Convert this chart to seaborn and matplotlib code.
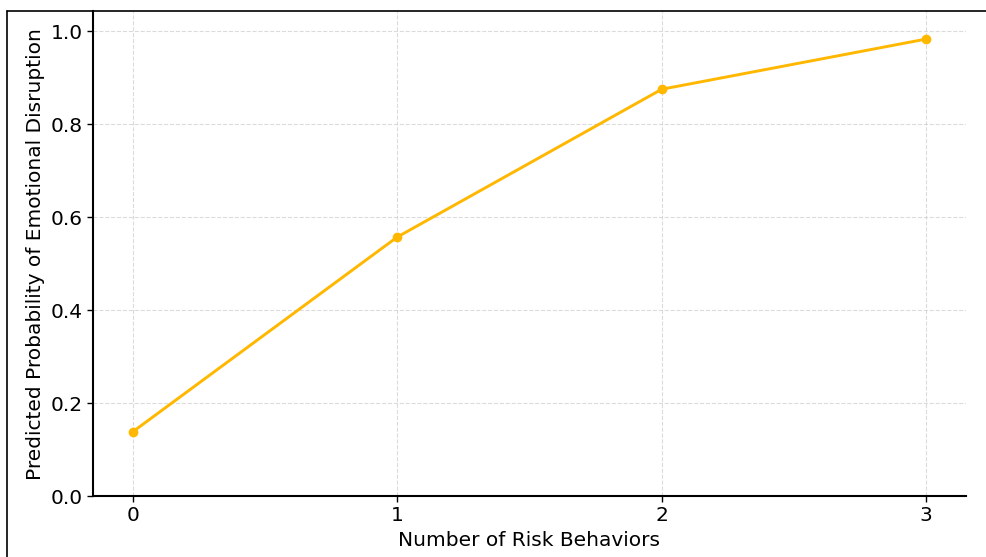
import pandas as pd
import matplotlib.pyplot as plt
import seaborn as sns
from matplotlib.lines import Line2D

# datos
risk_behaviors = [0, 1, 2, 3]
pred_prob = [0.138, 0.557, 0.875, 0.983]

df = pd.DataFrame({'riesgo': risk_behaviors, 'prob': pred_prob})

sns.set_style('ticks')
plt.rcParams['font.family'] = ['DejaVu Sans']

fig = plt.figure(figsize=(9.87, 5.57), dpi=100)
ax = fig.add_axes([0.0942, 0.1095, 0.8845, 0.8705])

sns.lineplot(data=df, x='riesgo', y='prob', ax=ax, color='#FFB700',
             linewidth=2.1, marker='o', markersize=7, markeredgewidth=0)

ax.set_xlim(-0.15, 3.15)
ax.set_ylim(0, 1.043)
ax.set_xticks(risk_behaviors)
ax.set_yticks([0.0, 0.2, 0.4, 0.6, 0.8, 1.0])
ax.set_xlabel('Number of Risk Behaviors', fontsize=14.5, color='black')
ax.set_ylabel('Predicted Probability of Emotional Disruption', fontsize=14.5, color='black')
ax.tick_params(labelsize=14.5, length=4, width=1, color='black', labelcolor='black')
ax.grid(True, linestyle='--', linewidth=0.8, color='#cccccc', alpha=0.7)

for s in ['top', 'right']:
    ax.spines[s].set_visible(False)
for s in ['left', 'bottom']:
    ax.spines[s].set_color('black')
    ax.spines[s].set_linewidth(1.5)

# marco de la captura
fig.add_artist(Line2D([0.007, 1.0], [0.981, 0.981], color='black', linewidth=1.2))
fig.add_artist(Line2D([0.007, 0.007], [0.0, 0.981], color='black', linewidth=1.2))

fig.savefig('out.png', dpi=100)
